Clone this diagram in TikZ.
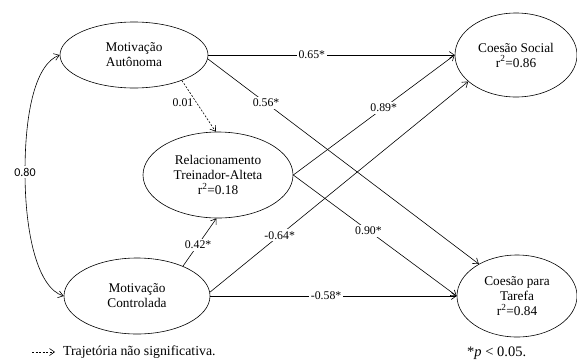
\documentclass[tikz,border=0pt]{standalone}
\usepackage{fontspec}
\setmainfont{Liberation Serif}
\newfontfamily\calfont{Carlito}
\usetikzlibrary{arrows.meta,shapes.geometric}
\tikzset{
  var/.style={ellipse,draw,line width=0.6pt,inner sep=0pt,align=center,
    font=\fontsize{13.3}{15}\selectfont},
  path/.style={line width=0.6pt,-{Straight Barb[length=5pt,width=7pt]}},
  nspath/.style={path,dashed,dash pattern=on 2pt off 1.5pt},
  lbl/.style={fill=white,inner sep=2pt,font=\fontsize{11.8}{13}\selectfont},
  legend/.style={font=\fontsize{13.8}{15}\selectfont,anchor=west,inner sep=0pt}
}
\begin{document}
\begin{tikzpicture}[x=1pt,y=-1pt]
\useasboundingbox (0,0) rectangle (577,362);
\node[var,minimum width=148pt,minimum height=66pt] (ma) at (134,55) {Motivação\\Autônoma};
\node[var,minimum width=150pt,minimum height=86pt] (rel) at (218,175) {Relacionamento\\Treinador-Alteta\\r\textsuperscript{2}=0.18};
\node[var,minimum width=146pt,minimum height=76pt] (mc) at (137,296) {Motivação\\Controlada};
\node[var,minimum width=122pt,minimum height=84pt] (cs) at (516,55) {Coesão Social\\r\textsuperscript{2}=0.86};
\node[var,minimum width=120pt,minimum height=82pt] (ct) at (517,296) {Coesão para\\Tarefa\\r\textsuperscript{2}=0.84};

\draw[path] (ma.east) -- node[lbl,pos=0.42] (l1) {0.65*} (cs.west);
\draw[path] (ma.-3) -- node[lbl,pos=0.215] (l2) {0.56*} (ct.140);
\draw[nspath] (ma.-28) -- (rel.93);
\node[lbl,fill=none] (l3) at (183,103) {0.01};
\draw[path] (rel.east) -- node[lbl,pos=0.56] (l4) {0.89*} (cs.west);
\draw[path] (rel.east) -- node[lbl,pos=0.46] (l5) {0.90*} (ct.west);
\draw[path] (mc.33) -- node[lbl,pos=0.45] (l6) {0.42*} (rel.268);
\draw[path] (mc.3) -- node[lbl,pos=0.27] (l7) {-0.64*} (cs.209);
\draw[path] (mc.east) -- node[lbl,pos=0.47] (l8) {-0.58*} (ct.west);

\draw[line width=0.6pt,{Straight Barb[length=5pt,width=7pt]}-{Straight Barb[length=5pt,width=7pt]}]
  (ma.west) .. controls (36,64) and (25,110) .. (25,172)
  node[lbl,font=\calfont\fontsize{12}{13}\selectfont] (l9) {0.80}
  .. controls (25,235) and (38,288) .. (mc.west);

\coordinate (lg1) at (32,352);
\coordinate (lg2) at (55,352);
\draw[nspath] (lg1) -- (lg2);
\node[legend] (lgt) at (63,352) {Trajetória não significativa.};
\node[legend,font=\fontsize{14.5}{15}\selectfont] (sig) at (467,353) {*\textit{p} < 0.05.};
\end{tikzpicture}
\end{document}
